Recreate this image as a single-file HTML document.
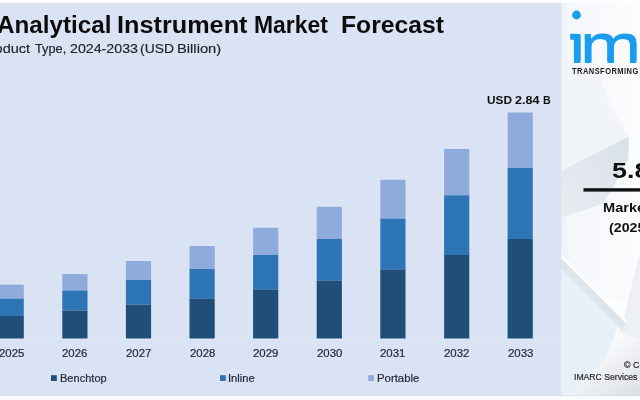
<!DOCTYPE html>
<html><head><meta charset="utf-8">
<style>
html,body{margin:0;padding:0;}
body{width:640px;height:400px;overflow:hidden;position:relative;background:#fbfcfe;font-family:"Liberation Sans",sans-serif;}
#chart{position:absolute;left:0;top:3px;width:562px;height:393px;background:#dae3f3;}
.t{position:absolute;white-space:nowrap;line-height:1;transform-origin:0 0;}
.b{font-weight:bold;}
svg{position:absolute;left:0;top:0;}
#logo{position:absolute;left:0;top:0;white-space:nowrap;line-height:1;font-weight:bold;color:#1a9cf0;}
</style></head><body>
<div id="chart"></div>

<svg width="640" height="400" viewBox="0 0 640 400">
<defs>
<linearGradient id="pg" gradientUnits="userSpaceOnUse" x1="561.2" y1="0" x2="640.2" y2="0"><stop offset="0" stop-color="#edf2f8"/><stop offset="0.12" stop-color="#f5f8fb"/><stop offset="1" stop-color="#fafcfd"/></linearGradient>
<linearGradient id="g1" x1="0" y1="1" x2="1" y2="0"><stop offset="0" stop-color="#e8edf2"/><stop offset="1" stop-color="#d9e0e6"/></linearGradient>
<filter id="bl" x="-10%" y="-5%" width="120%" height="110%"><feGaussianBlur stdDeviation="0.7"/></filter>
<filter id="bl2" x="-20%" y="-10%" width="140%" height="120%"><feGaussianBlur stdDeviation="2.5"/></filter>
<linearGradient id="g2" gradientUnits="userSpaceOnUse" x1="600" y1="340" x2="640" y2="400"><stop offset="0" stop-color="#fcfdfe"/><stop offset="1" stop-color="#d9dee3"/></linearGradient>
</defs>
<rect x="561.2" y="0" width="79" height="400" fill="url(#pg)"/>
<g filter="url(#bl)">
<path d="M562,60 L596,60 Q604,100 629,137 L562,171 Z" fill="#f1f5fa"/>
<polygon points="561,171 628.5,136.5 628.5,158 612,190 602,204 561,218" fill="url(#g1)"/>
<rect x="562" y="300" width="80" height="97" fill="url(#g2)"/>
<path d="M642,246 Q630,290 623,322 L618,332 L642,340 Z" fill="#eef1f4"/>
<path d="M561,267 L622,329 L617,328 L613,341 L605,357 L593,373 L576,388 L561,397 Z" fill="#e7f0f8"/>
<polygon points="561,257 626,322 622,330 561,268" fill="#dde5eb"/>
<polygon points="561,254.5 627,320.5 626,323 561,258" fill="#ffffff"/>
</g>
<rect x="0" y="0" width="640" height="3" fill="#fcfdfe"/>
<rect x="0" y="396" width="640" height="4" fill="#fbfcfe"/>
<rect x="0" y="338.6" width="561.5" height="0.9" fill="#e3e9f5"/>
<rect x="0" y="395.2" width="640" height="1" fill="#d9dde4" opacity="0.4"/>
<rect x="0" y="2.6" width="561" height="0.8" fill="#dfe2e8" opacity="0.6"/>
<rect x="-1.40" y="284.60" width="25.2" height="14.10" fill="#8faadc"/>
<rect x="-1.40" y="298.70" width="25.2" height="17.30" fill="#2e75b6"/>
<rect x="-1.40" y="316.00" width="25.2" height="22.50" fill="#1f4e79"/>
<rect x="62.30" y="274.10" width="25.2" height="16.40" fill="#8faadc"/>
<rect x="62.30" y="290.50" width="25.2" height="20.20" fill="#2e75b6"/>
<rect x="62.30" y="310.70" width="25.2" height="27.80" fill="#1f4e79"/>
<rect x="125.90" y="261.00" width="25.2" height="19.00" fill="#8faadc"/>
<rect x="125.90" y="280.00" width="25.2" height="24.70" fill="#2e75b6"/>
<rect x="125.90" y="304.70" width="25.2" height="33.80" fill="#1f4e79"/>
<rect x="189.50" y="246.00" width="25.2" height="23.00" fill="#8faadc"/>
<rect x="189.50" y="269.00" width="25.2" height="29.40" fill="#2e75b6"/>
<rect x="189.50" y="298.40" width="25.2" height="40.10" fill="#1f4e79"/>
<rect x="253.10" y="227.80" width="25.2" height="27.20" fill="#8faadc"/>
<rect x="253.10" y="255.00" width="25.2" height="34.40" fill="#2e75b6"/>
<rect x="253.10" y="289.40" width="25.2" height="49.10" fill="#1f4e79"/>
<rect x="316.70" y="206.75" width="25.2" height="32.25" fill="#8faadc"/>
<rect x="316.70" y="239.00" width="25.2" height="41.50" fill="#2e75b6"/>
<rect x="316.70" y="280.50" width="25.2" height="58.00" fill="#1f4e79"/>
<rect x="380.30" y="179.80" width="25.2" height="38.80" fill="#8faadc"/>
<rect x="380.30" y="218.60" width="25.2" height="50.80" fill="#2e75b6"/>
<rect x="380.30" y="269.40" width="25.2" height="69.10" fill="#1f4e79"/>
<rect x="444.10" y="149.00" width="25.2" height="46.30" fill="#8faadc"/>
<rect x="444.10" y="195.30" width="25.2" height="59.70" fill="#2e75b6"/>
<rect x="444.10" y="255.00" width="25.2" height="83.50" fill="#1f4e79"/>
<rect x="507.60" y="112.50" width="25.2" height="55.50" fill="#8faadc"/>
<rect x="507.60" y="168.00" width="25.2" height="71.00" fill="#2e75b6"/>
<rect x="507.60" y="239.00" width="25.2" height="99.50" fill="#1f4e79"/>
<rect x="51.0" y="375.2" width="5.8" height="5.8" fill="#1f4e79"/>
<rect x="220.0" y="375.2" width="5.8" height="5.8" fill="#2e75b6"/>
<rect x="368.2" y="375.2" width="5.8" height="5.8" fill="#8faadc"/>
<rect x="583.5" y="188.2" width="60" height="3.4" fill="#111"/>
</svg>
<span class="t b" style="left:-3.07px;top:14.41px;font-size:23.5px;color:#0c0c0c;transform:scaleX(1.0304);">Analytical</span>
<span class="t b" style="left:117.29px;top:14.41px;font-size:23.5px;color:#0c0c0c;transform:scaleX(1.0747);">Instrument</span>
<span class="t b" style="left:254.34px;top:14.41px;font-size:23.5px;color:#0c0c0c;transform:scaleX(0.9757);">Market</span>
<span class="t b" style="left:340.82px;top:14.41px;font-size:23.5px;color:#0c0c0c;transform:scaleX(1.0525);">Forecast</span>
<span class="t" style="left:-20.44px;top:41.90px;font-size:13px;color:#20222a;transform:scaleX(1.1188);-webkit-text-stroke:0.15px #20222a;">Product</span>
<span class="t" style="left:34.75px;top:41.90px;font-size:13px;color:#20222a;transform:scaleX(0.9836);-webkit-text-stroke:0.15px #20222a;">Type,</span>
<span class="t" style="left:69.68px;top:41.90px;font-size:13px;color:#20222a;transform:scaleX(1.0930);-webkit-text-stroke:0.15px #20222a;">2024-2033</span>
<span class="t" style="left:140.40px;top:41.90px;font-size:13px;color:#20222a;transform:scaleX(1.0689);-webkit-text-stroke:0.15px #20222a;">(USD</span>
<span class="t" style="left:177.07px;top:41.90px;font-size:13px;color:#20222a;transform:scaleX(1.1329);-webkit-text-stroke:0.15px #20222a;">Billion)</span>
<span class="t" style="left:-1.27px;top:349.44px;font-size:10.0px;color:#262b3a;transform:scaleX(1.1388);-webkit-text-stroke:0.2px #262b3a;">2025</span>
<span class="t" style="left:62.43px;top:349.44px;font-size:10.0px;color:#262b3a;transform:scaleX(1.1388);-webkit-text-stroke:0.2px #262b3a;">2026</span>
<span class="t" style="left:126.03px;top:349.44px;font-size:10.0px;color:#262b3a;transform:scaleX(1.1388);-webkit-text-stroke:0.2px #262b3a;">2027</span>
<span class="t" style="left:189.63px;top:349.44px;font-size:10.0px;color:#262b3a;transform:scaleX(1.1388);-webkit-text-stroke:0.2px #262b3a;">2028</span>
<span class="t" style="left:253.23px;top:349.44px;font-size:10.0px;color:#262b3a;transform:scaleX(1.1388);-webkit-text-stroke:0.2px #262b3a;">2029</span>
<span class="t" style="left:316.83px;top:349.44px;font-size:10.0px;color:#262b3a;transform:scaleX(1.1388);-webkit-text-stroke:0.2px #262b3a;">2030</span>
<span class="t" style="left:380.43px;top:349.44px;font-size:10.0px;color:#262b3a;transform:scaleX(1.1388);-webkit-text-stroke:0.2px #262b3a;">2031</span>
<span class="t" style="left:444.23px;top:349.44px;font-size:10.0px;color:#262b3a;transform:scaleX(1.1388);-webkit-text-stroke:0.2px #262b3a;">2032</span>
<span class="t" style="left:507.73px;top:349.44px;font-size:10.0px;color:#262b3a;transform:scaleX(1.1388);-webkit-text-stroke:0.2px #262b3a;">2033</span>
<span class="t" style="left:59.67px;top:373.79px;font-size:10.0px;color:#262b3a;transform:scaleX(1.1049);-webkit-text-stroke:0.2px #262b3a;">Benchtop</span>
<span class="t" style="left:228.38px;top:373.79px;font-size:10.0px;color:#262b3a;transform:scaleX(1.1156);-webkit-text-stroke:0.2px #262b3a;">Inline</span>
<span class="t" style="left:376.85px;top:373.79px;font-size:10.0px;color:#262b3a;transform:scaleX(1.1361);-webkit-text-stroke:0.2px #262b3a;">Portable</span>
<span class="t b" style="left:486.85px;top:95.26px;font-size:11.8px;color:#101010;transform:scaleX(1.0021);">USD</span>
<span class="t b" style="left:515.37px;top:95.26px;font-size:11.8px;color:#101010;transform:scaleX(1.0652);">2.84</span>
<span class="t b" style="left:542.92px;top:95.26px;font-size:11.8px;color:#101010;transform:scaleX(0.9103);">B</span>
<span class="t b" style="left:572.00px;top:66.79px;font-size:8.4px;color:#1c1c1c;letter-spacing:0.5px;transform:scaleX(0.8966);">TRANSFORMING IDEAS INTO IMPACT</span>
<span class="t b" style="left:611.70px;top:159.64px;font-size:22.4px;color:#101010;transform:scaleX(1.2000);">5.8%</span>
<span class="t b" style="left:603.30px;top:201.57px;font-size:12.2px;color:#101010;transform:scaleX(1.1964);">Market Growth Rate</span>
<span class="t b" style="left:609.12px;top:222.17px;font-size:12.2px;color:#101010;transform:scaleX(1.1660);">(2025-2033)</span>
<span class="t" style="left:624.13px;top:361.56px;font-size:8.2px;color:#2a2a2a;transform:scaleX(1.0815);-webkit-text-stroke:0.2px #2a2a2a;">© Copyright</span>
<span class="t" style="left:574.24px;top:372.70px;font-size:8.5px;color:#2a2a2a;transform:scaleX(1.0171);-webkit-text-stroke:0.2px #2a2a2a;">IMARC Services Pvt Ltd</span>
<div id="logo" style="left:569.3px;top:16.98px;font-size:52.0px;font-weight:normal;text-shadow:0 2.2px 0 #1a9cf0;transform-origin:0 0;transform:scaleX(1.42);"><span style="letter-spacing:-3.9px">i</span>marc</div>
<svg width="640" height="400" viewBox="0 0 640 400"><rect x="570" y="20" width="14" height="12.5" fill="url(#pg)"/><circle cx="576.5" cy="15" r="4.4" fill="#1a9cf0"/><rect x="570.2" y="33.8" width="6" height="5.9" fill="#1a9cf0"/></svg>
</body></html>
